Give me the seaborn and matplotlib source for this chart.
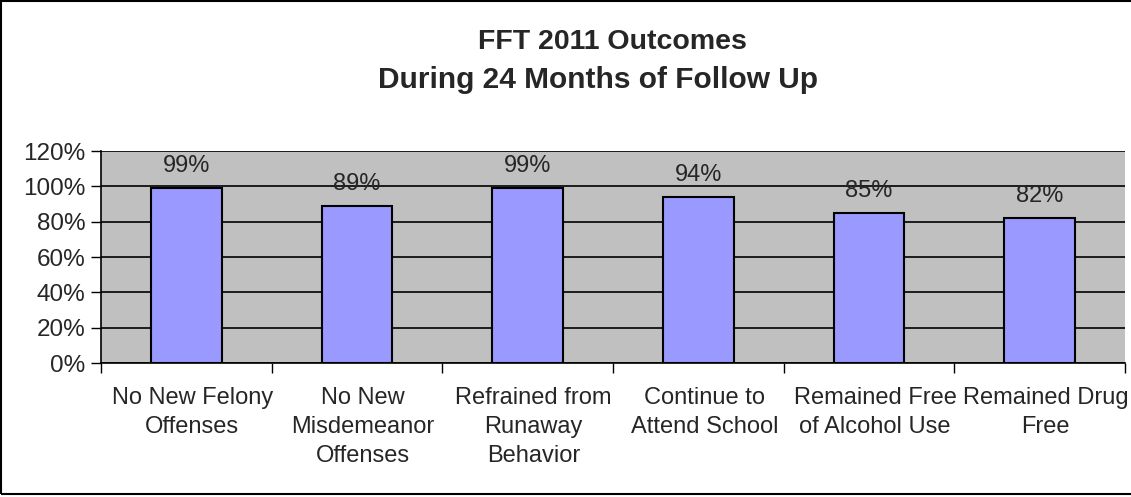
import matplotlib
matplotlib.use("Agg")
import matplotlib.pyplot as plt
import matplotlib.transforms as mtransforms
import seaborn as sns
import pandas as pd
from matplotlib.ticker import PercentFormatter, FixedLocator
from matplotlib.patches import Rectangle

# Outcome categories and share of youth meeting each one
outcomes = [
    "No New Felony\nOffenses",
    "No New\nMisdemeanor\nOffenses",
    "Refrained from\nRunaway\nBehavior",
    "Continue to\nAttend School",
    "Remained Free\nof Alcohol Use",
    "Remained Drug\nFree",
]
rates = [0.99, 0.89, 0.99, 0.94, 0.85, 0.82]
y_ticks = [0, 0.2, 0.4, 0.6, 0.8, 1.0, 1.2]
title_lines = ["FFT 2011 Outcomes", "During 24 Months of Follow Up"]

df = pd.DataFrame({"Outcome": outcomes, "Rate": rates})

sns.set_style("white")
plt.rcParams["font.family"] = ["Liberation Sans", "DejaVu Sans"]

fig = plt.figure(figsize=(11.31, 4.97), dpi=100)
ax = fig.add_axes([0.0893, 0.2696, 0.9054, 0.4264])
ax.set_facecolor("#C0C0C0")

sns.barplot(data=df, x="Outcome", y="Rate", color="#9999FF",
            edgecolor="black", linewidth=1.5, width=0.415,
            saturation=1, ax=ax, zorder=3)

# data labels above each bar
for cont in ax.containers:
    ax.bar_label(cont, labels=[f"{v:.0%}" for v in rates],
                 padding=8, fontsize=17)

ax.set_ylim(0, 1.2)
ax.set_xlim(-0.5, len(outcomes) - 0.5)
ax.yaxis.set_major_locator(FixedLocator(y_ticks))
ax.yaxis.set_major_formatter(PercentFormatter(1.0, decimals=0))
ax.grid(axis="y", color="black", linewidth=1.2, zorder=0)
ax.set_axisbelow(True)

# category boundaries as major ticks, labels on minor ticks at centers
ax.set_xticks([i - 0.5 for i in range(len(outcomes) + 1)])
ax.set_xticklabels([])
ax.set_xticks(range(len(outcomes)), minor=True)
ax.set_xticklabels(outcomes, minor=True, fontsize=17, linespacing=1.42)
ax.tick_params(axis="x", which="major", direction="out", length=7,
               width=1, color="black", bottom=True)
ax.tick_params(axis="x", which="minor", length=0, pad=17)
ax.tick_params(axis="y", direction="out", length=7, width=1,
               color="black", left=True, labelsize=17.5, pad=4)

# category labels sit a few pixels right of the bar centres in the original
shift = mtransforms.ScaledTranslation(6 / 100, 0, fig.dpi_scale_trans)
for lbl in ax.get_xticklabels(minor=True):
    lbl.set_transform(lbl.get_transform() + shift)

ax.set_xlabel("")
ax.set_ylabel("")
for side in ["top", "right"]:
    ax.spines[side].set_visible(False)
for side in ["left", "bottom"]:
    ax.spines[side].set_color("black")
    ax.spines[side].set_linewidth(1.2)

# two-line bold title
fig.text(612 / 1131, 1 - 49 / 497, title_lines[0], ha="center", va="baseline",
         fontsize=20.5, fontweight="bold")
fig.text(598 / 1131, 1 - 88 / 497, title_lines[1], ha="center", va="baseline",
         fontsize=21.5, fontweight="bold")

# outer chart border (runs off the right edge like the original)
fig.patches.append(Rectangle((0.001, 0.006), 1.2, 0.992, transform=fig.transFigure,
                             fill=False, edgecolor="black", linewidth=1.5))

fig.savefig("out.png", dpi=100)
